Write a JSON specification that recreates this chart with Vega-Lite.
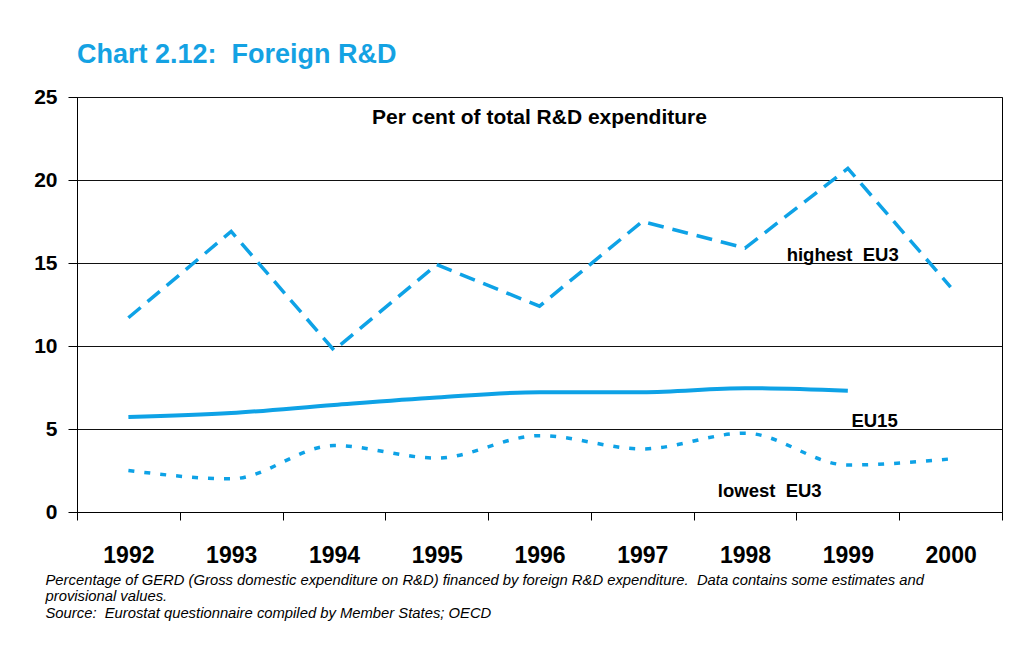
{
  "$schema": "https://vega.github.io/schema/vega-lite/v6.json",
  "width": 925,
  "height": 415,
  "autosize": {"type": "none"},
  "padding": {"left": 77, "top": 97, "right": 19, "bottom": 151},
  "background": "white",
  "title": {
    "text": "Chart 2.12: \u00a0Foreign R&D",
    "anchor": "start",
    "frame": "group",
    "font": "Liberation Sans",
    "fontSize": 27,
    "fontWeight": "bold",
    "color": "#14A2E3",
    "baseline": "alphabetic",
    "offset": -4
  },
  "config": {
    "view": {"stroke": "#000", "strokeWidth": 1},
    "axis": {"domainColor": "#000", "tickColor": "#000", "labelColor": "#000"}
  },
  "datasets": {
    "series": [
      {"year": 1992, "series": "highest EU3", "value": 11.7},
      {"year": 1993, "series": "highest EU3", "value": 16.9},
      {"year": 1994, "series": "highest EU3", "value": 9.75},
      {"year": 1995, "series": "highest EU3", "value": 14.9},
      {"year": 1996, "series": "highest EU3", "value": 12.4},
      {"year": 1997, "series": "highest EU3", "value": 17.5},
      {"year": 1998, "series": "highest EU3", "value": 15.9},
      {"year": 1999, "series": "highest EU3", "value": 20.7},
      {"year": 2000, "series": "highest EU3", "value": 13.55},
      {"year": 1992, "series": "EU15", "value": 5.72},
      {"year": 1993, "series": "EU15", "value": 5.96},
      {"year": 1994, "series": "EU15", "value": 6.45},
      {"year": 1995, "series": "EU15", "value": 6.9},
      {"year": 1996, "series": "EU15", "value": 7.22},
      {"year": 1997, "series": "EU15", "value": 7.22},
      {"year": 1998, "series": "EU15", "value": 7.46},
      {"year": 1999, "series": "EU15", "value": 7.3},
      {"year": 1992, "series": "lowest EU3", "value": 2.5},
      {"year": 1993, "series": "lowest EU3", "value": 2.0},
      {"year": 1994, "series": "lowest EU3", "value": 4.0},
      {"year": 1995, "series": "lowest EU3", "value": 3.25},
      {"year": 1996, "series": "lowest EU3", "value": 4.6},
      {"year": 1997, "series": "lowest EU3", "value": 3.8},
      {"year": 1998, "series": "lowest EU3", "value": 4.75},
      {"year": 1999, "series": "lowest EU3", "value": 2.83},
      {"year": 2000, "series": "lowest EU3", "value": 3.2}
    ],
    "labels": [
      {"label": "highest \u00a0EU3", "year": 1998.95, "value": 15.5},
      {"label": "EU15", "year": 1999.26, "value": 5.5},
      {"label": "lowest \u00a0EU3", "year": 1998.24, "value": 1.25}
    ],
    "note": [
      {"label": "Per cent of total R&D expenditure", "year": 1996, "value": 23.72}
    ]
  },
  "layer": [
    {
      "data": {"name": "series"},
      "transform": [{"filter": "datum.series === 'highest EU3'"}],
      "mark": {"type": "line", "color": "#0EA2E6", "strokeWidth": 3.5, "strokeDash": [16, 9]},
      "encoding": {
        "x": {
          "field": "year",
          "type": "quantitative",
          "scale": {"domain": [1991.5, 2000.5], "nice": false, "zero": false},
          "axis": {
            "values": [1991.5, 1992.5, 1993.5, 1994.5, 1995.5, 1996.5, 1997.5, 1998.5, 1999.5, 2000.5],
            "labelExpr": "datum.value < 2000 ? format(datum.value + 0.5, 'd') : ''",
            "labelOffset": 51.4,
            "labelFont": "Liberation Sans",
            "labelFontSize": 23,
            "labelFontWeight": "bold",
            "labelBaseline": "alphabetic",
            "labelPadding": 42,
            "labelOverlap": false,
            "labelBound": false,
            "labelFlush": false,
            "tickSize": 8,
            "grid": false,
            "title": [
              "Percentage of GERD (Gross domestic expenditure on R&D) financed by foreign R&D expenditure. \u00a0Data contains some estimates and",
              "provisional values.",
              "Source: \u00a0Eurostat questionnaire compiled by Member States; OECD"
            ],
            "titleFont": "Liberation Sans",
            "titleFontSize": 14.8,
            "titleFontStyle": "italic",
            "titleFontWeight": "normal",
            "titleColor": "#000",
            "titleAlign": "left",
            "titleAnchor": "start",
            "titleBaseline": "alphabetic",
            "titleLineHeight": 16.5,
            "titleX": -32,
            "titleY": 72
          }
        },
        "y": {
          "field": "value",
          "type": "quantitative",
          "scale": {"domain": [0, 25], "nice": false},
          "axis": {
            "values": [0, 5, 10, 15, 20, 25],
            "grid": true,
            "gridColor": "#111",
            "gridOpacity": 1,
            "gridWidth": 1,
            "tickSize": 9,
            "labelPadding": 11,
            "labelFont": "Liberation Sans",
            "labelFontSize": 21,
            "labelFontWeight": "bold",
            "title": null
          }
        }
      }
    },
    {
      "data": {"name": "series"},
      "transform": [{"filter": "datum.series === 'EU15'"}],
      "mark": {"type": "line", "color": "#0EA2E6", "strokeWidth": 4, "interpolate": "monotone"},
      "encoding": {
        "x": {"field": "year", "type": "quantitative"},
        "y": {"field": "value", "type": "quantitative"}
      }
    },
    {
      "data": {"name": "series"},
      "transform": [{"filter": "datum.series === 'lowest EU3'"}],
      "mark": {"type": "line", "color": "#0EA2E6", "strokeWidth": 3.5, "strokeDash": [6, 10], "interpolate": "monotone"},
      "encoding": {
        "x": {"field": "year", "type": "quantitative"},
        "y": {"field": "value", "type": "quantitative"}
      }
    },
    {
      "data": {"name": "labels"},
      "mark": {"type": "text", "font": "Liberation Sans", "fontSize": 18.5, "fontWeight": "bold", "color": "#000", "baseline": "middle", "align": "center"},
      "encoding": {
        "x": {"field": "year", "type": "quantitative"},
        "y": {"field": "value", "type": "quantitative"},
        "text": {"field": "label"}
      }
    },
    {
      "data": {"name": "note"},
      "mark": {"type": "text", "font": "Liberation Sans", "fontSize": 21, "fontWeight": "bold", "color": "#000", "baseline": "middle", "align": "center"},
      "encoding": {
        "x": {"field": "year", "type": "quantitative"},
        "y": {"field": "value", "type": "quantitative"},
        "text": {"field": "label"}
      }
    }
  ]
}
